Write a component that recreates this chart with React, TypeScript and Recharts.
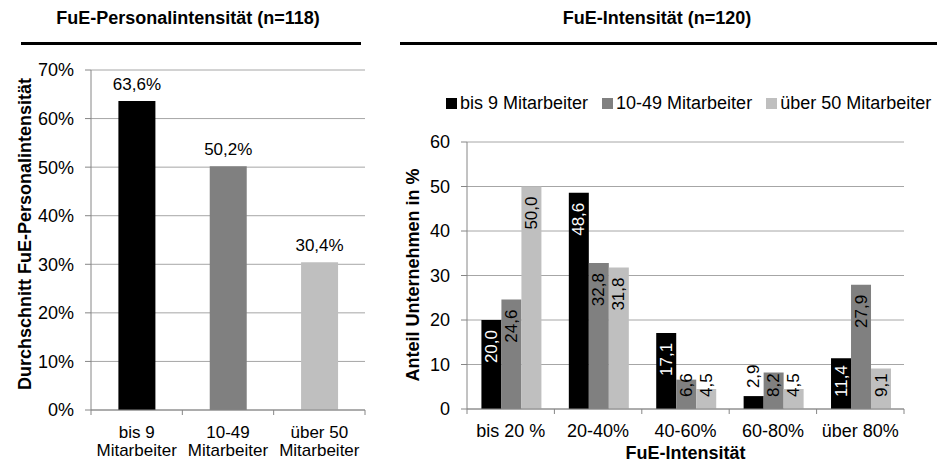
import { Bar, BarChart, CartesianGrid, Cell, LabelList, XAxis, YAxis } from "recharts";

const FONT = "'Liberation Sans', Arial, sans-serif";
const AXIS = "#868686";
const GRID = "#a6a6a6";

// left panel: FuE-Personalintensität by company size
const SIZE_CLASSES = ["bis 9 Mitarbeiter", "10-49 Mitarbeiter", "über 50 Mitarbeiter"];
const PERSONAL_INTENSITY = [63.6, 50.2, 30.4];
const PERCENT_TICKS = [0, 10, 20, 30, 40, 50, 60, 70];

// right panel: FuE-Intensität distribution, one series per size class
const INTENSITY_BANDS = ["bis 20 %", "20-40%", "40-60%", "60-80%", "über 80%"];
const SMALL_FIRMS = [20.0, 48.6, 17.1, 2.9, 11.4];
const MEDIUM_FIRMS = [24.6, 32.8, 6.6, 8.2, 27.9];
const LARGE_FIRMS = [50.0, 31.8, 4.5, 4.5, 9.1];
const SHARE_TICKS = [0, 10, 20, 30, 40, 50, 60];

const SERIES_KEYS = ["small", "medium", "large"];
const SERIES_COLORS = ["#000000", "#808080", "#bfbfbf"];

const comma = (v: number) => v.toFixed(1).replace(".", ",");

const personalData = SIZE_CLASSES.map((name, i) => ({ name, value: PERSONAL_INTENSITY[i] }));
const intensityData = INTENSITY_BANDS.map((name, i) => ({
  name,
  small: SMALL_FIRMS[i],
  medium: MEDIUM_FIRMS[i],
  large: LARGE_FIRMS[i],
}));

// chart geometry
const L_W = 400;
const L_MARGIN = { top: 70, right: 35, bottom: 0, left: 41 };
const L_YAXIS_W = 50;
const L_BAND = (L_W - L_MARGIN.left - L_MARGIN.right - L_YAXIS_W) / SIZE_CLASSES.length;

const R_W = 537;
const R_MARGIN = { top: 142, right: 33, bottom: 0, left: 27 };
const R_YAXIS_W = 40;
const R_BAND = (R_W - R_MARGIN.left - R_MARGIN.right - R_YAXIS_W) / INTENSITY_BANDS.length;

// Excel puts category tick marks between the groups, not under them
function BoundaryTick(props: any) {
  const { x, y, payload, index, band, count, twoLine } = props;
  const text: string = payload.value;
  const cut = text.lastIndexOf(" ");
  const lines = twoLine ? [text.slice(0, cut), text.slice(cut + 1)] : [text];
  return (
    <g>
      <line x1={x - band / 2} x2={x - band / 2} y1={y} y2={y + 5} stroke={AXIS} />
      {index === count - 1 && (
        <line x1={x + band / 2} x2={x + band / 2} y1={y} y2={y + 5} stroke={AXIS} />
      )}
      <text x={x} y={y + 28} textAnchor="middle" fontSize={twoLine ? 17 : 18} fill="#000" fontFamily={FONT}>
        {lines.map((l, i) => (
          <tspan key={i} x={x} dy={i === 0 ? 0 : 18}>
            {l}
          </tspan>
        ))}
      </text>
    </g>
  );
}

function rotatedLabel(color: string) {
  return (props: any) => {
    const { x, y, width, height, value } = props;
    const str = comma(value);
    const fs = 17;
    const len = [...str].reduce((s, c) => s + (c === "," ? 0.278 : 0.556), 0) * fs;
    const cx = x + width / 2;
    const axisY = y + height;
    let bottom: number;
    let fill = color === "#000000" ? "#fff" : "#000";
    if (height < 15) {
      bottom = y - 8;
      fill = "#000";
    } else {
      bottom = Math.min(y + 10 + len, axisY - 12);
    }
    return (
      <text
        x={cx}
        y={bottom}
        transform={`rotate(-90, ${cx}, ${bottom})`}
        textAnchor="start"
        dominantBaseline="central"
        fontSize={fs}
        fontFamily={FONT}
        fill={fill}
      >
        {str}
      </text>
    );
  };
}

function Legend() {
  return (
    <div
      style={{
        position: "absolute",
        left: 446,
        top: 93,
        display: "flex",
        alignItems: "center",
        fontSize: 18,
        fontFamily: FONT,
        whiteSpace: "nowrap",
      }}
    >
      {SIZE_CLASSES.map((name, i) => (
        <div key={name} style={{ display: "flex", alignItems: "center", marginRight: 14 }}>
          <span style={{ width: 11, height: 11, background: SERIES_COLORS[i], marginRight: 3 }} />
          <span>{name}</span>
        </div>
      ))}
    </div>
  );
}

export default function App() {
  const tickStyle = { fill: "#000", fontSize: 18, fontFamily: FONT };
  return (
    <div
      style={{
        position: "absolute",
        left: 0,
        top: 0,
        width: 937,
        height: 466,
        background: "#fff",
        fontFamily: FONT,
        overflow: "hidden",
      }}
    >
      <div style={{ position: "absolute", left: 0, width: 376, top: 8, textAlign: "center", fontWeight: "bold", fontSize: 18 }}>
        FuE-Personalintensität (n=118)
      </div>
      <div style={{ position: "absolute", left: 21, top: 42, width: 340, height: 3, background: "#000" }} />
      <div style={{ position: "absolute", left: 400, width: 514, top: 8, textAlign: "center", fontWeight: "bold", fontSize: 18 }}>
        FuE-Intensität (n=120)
      </div>
      <div style={{ position: "absolute", left: 400, top: 42, width: 537, height: 3, background: "#000" }} />

      <div style={{ position: "absolute", left: 0, top: 0 }}>
        <BarChart width={L_W} height={466} data={personalData} margin={L_MARGIN} barCategoryGap="30%">
          <CartesianGrid vertical={false} stroke={GRID} />
          <XAxis
            dataKey="name"
            height={56}
            axisLine={{ stroke: AXIS }}
            tickLine={false}
            tickSize={0}
            tickMargin={0}
            interval={0}
            tick={<BoundaryTick band={L_BAND} count={SIZE_CLASSES.length} twoLine />}
          />
          <YAxis
            width={L_YAXIS_W}
            domain={[0, 70]}
            ticks={PERCENT_TICKS}
            tickFormatter={(v: number) => `${v}%`}
            axisLine={{ stroke: AXIS }}
            tickLine={{ stroke: AXIS }}
            tickSize={6}
            tickMargin={11}
            tick={tickStyle}
            label={{
              content: () => (
                <text
                  x={25}
                  y={234}
                  transform="rotate(-90, 25, 234)"
                  textAnchor="middle"
                  dominantBaseline="central"
                  fontSize={18}
                  fontWeight="bold"
                  fontFamily={FONT}
                >
                  Durchschnitt FuE-Personalintensität
                </text>
              ),
            }}
          />
          <Bar dataKey="value" isAnimationActive={false}>
            {personalData.map((_, i) => (
              <Cell key={i} fill={SERIES_COLORS[i]} />
            ))}
            <LabelList
              dataKey="value"
              position="top"
              offset={11}
              formatter={(v: any) => `${comma(Number(v))}%`}
              style={{ fontSize: 17, fontFamily: FONT, fill: "#000" }}
            />
          </Bar>
        </BarChart>
      </div>

      <Legend />

      <div style={{ position: "absolute", left: 400, top: 0 }}>
        <BarChart width={R_W} height={466} data={intensityData} margin={R_MARGIN} barCategoryGap="16.5%" barGap={0}>
          <CartesianGrid vertical={false} stroke={GRID} />
          <XAxis
            dataKey="name"
            height={57}
            axisLine={{ stroke: AXIS }}
            tickLine={false}
            tickSize={0}
            tickMargin={0}
            interval={0}
            tick={<BoundaryTick band={R_BAND} count={INTENSITY_BANDS.length} />}
            label={{
              content: (p: any) => {
                const vb = p.viewBox;
                return (
                  <text
                    x={vb.x + vb.width / 2}
                    y={vb.y + 50}
                    textAnchor="middle"
                    fontSize={18}
                    fontWeight="bold"
                    fontFamily={FONT}
                  >
                    FuE-Intensität
                  </text>
                );
              },
            }}
          />
          <YAxis
            width={R_YAXIS_W}
            domain={[0, 60]}
            ticks={SHARE_TICKS}
            axisLine={{ stroke: AXIS }}
            tickLine={{ stroke: AXIS }}
            tickSize={6}
            tickMargin={11}
            tick={tickStyle}
            label={{
              content: () => (
                <text
                  x={13}
                  y={275}
                  transform="rotate(-90, 13, 275)"
                  textAnchor="middle"
                  dominantBaseline="central"
                  fontSize={18}
                  fontWeight="bold"
                  fontFamily={FONT}
                >
                  Anteil Unternehmen in %
                </text>
              ),
            }}
          />
          {SERIES_KEYS.map((key, i) => (
            <Bar key={key} dataKey={key} fill={SERIES_COLORS[i]} isAnimationActive={false}>
              <LabelList dataKey={key} content={rotatedLabel(SERIES_COLORS[i])} />
            </Bar>
          ))}
        </BarChart>
      </div>
    </div>
  );
}
